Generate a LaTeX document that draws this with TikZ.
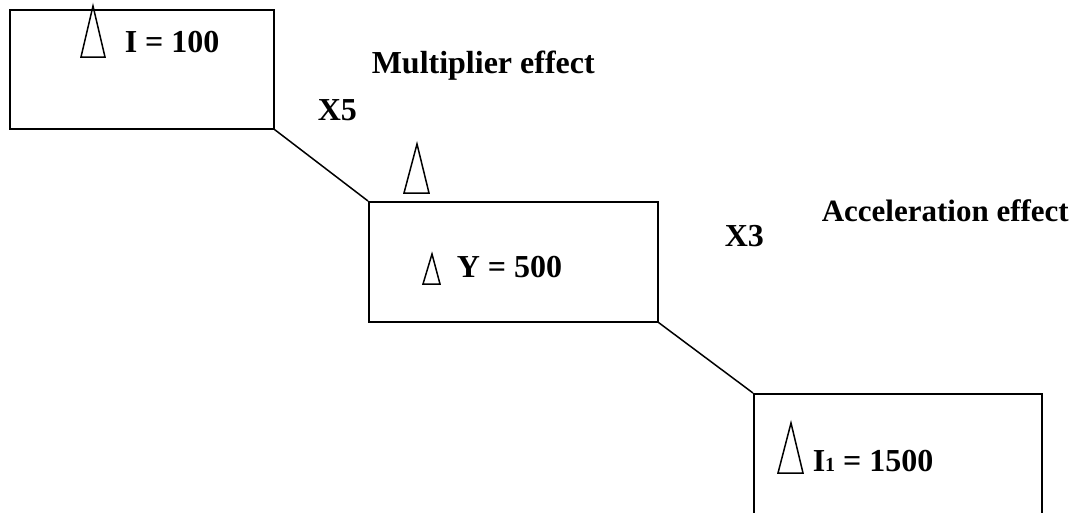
\documentclass[tikz,border=0pt]{standalone}
\usepackage{fontspec}
\setmainfont{Liberation Serif}
\begin{document}
\begin{tikzpicture}[x=1pt,y=-1pt,line width=1.5pt,
  stagebox/.style={draw,rectangle,inner sep=0pt,anchor=north west},
  lbl/.style={inner sep=0pt,anchor=base west,font=\bfseries\fontsize{32}{32}\selectfont},
  delta/.style={line join=miter}]
\useasboundingbox (0,0) rectangle (1081,512);
\clip (0,0) rectangle (1081,512);
% stage boxes
\node[stagebox,minimum width=264pt,minimum height=119pt] (b1) at (9,9) {};
\node[stagebox,minimum width=289pt,minimum height=120pt] (b2) at (368,201) {};
\node[stagebox,minimum width=288pt,minimum height=140pt] (b3) at (753,393) {};
% links between the stages
\draw (b1.south east) -- (b2.north west);
\draw (b2.south east) -- (b3.north west);
% increment symbols
\draw[delta] (93,6) -- (105,57) -- (81,57) -- cycle;
\draw[delta] (417,144) -- (429,193) -- (404,193) -- cycle;
\draw[delta] (432,254) -- (440,284) -- (423,284) -- cycle;
\draw[delta] (791,423) -- (803,473) -- (778,473) -- cycle;
% labels
\node[lbl] (t1) at (124,52) {I = 100};
\node[lbl] (t2) at (456,277) {Y = 500};
\node[lbl] (t3) at (812,471) {I{\fontsize{20}{20}\selectfont 1} = 1500};
\node[lbl] (m) at (371,73) {Multiplier effect};
\node[lbl] (x5) at (317,120) {X5};
\node[lbl,font=\bfseries\fontsize{31}{31}\selectfont] (a) at (821,221) {Acceleration effect};
\node[lbl] (x3) at (724,246) {X3};
\end{tikzpicture}
\end{document}
